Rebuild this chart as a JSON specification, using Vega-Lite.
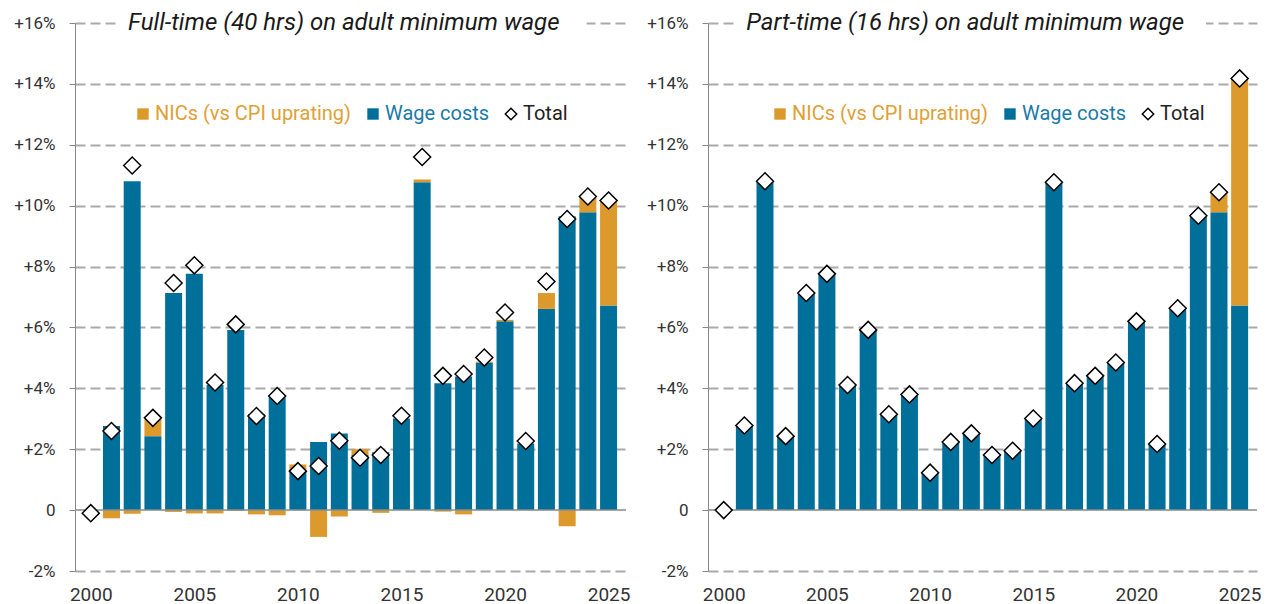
{
  "$schema": "https://vega.github.io/schema/vega-lite/v6.json",
  "background": "white",
  "padding": {"left": 13, "top": 11, "right": 0, "bottom": 0},
  "spacing": 16,
  "config": {
    "font": "Roboto",
    "view": {"stroke": null},
    "axisY": {
      "labelExpr": "datum.value > 0 ? '+' + datum.value + '%' : (datum.value == 0 ? '0' : datum.value + '%')",
      "grid": true,
      "gridDash": [10, 5],
      "gridColor": "#aaaaaa",
      "gridWidth": 2,
      "gridOpacity": {"condition": {"test": "datum.value === 0", "value": 0}, "value": 1},
      "domain": true,
      "domainColor": "#888888",
      "domainWidth": 1,
      "ticks": true,
      "tickColor": "#888888",
      "tickSize": 6,
      "labelPadding": 14,
      "labelFontSize": 17,
      "labelColor": "#333333",
      "labelFont": "Roboto",
      "title": null
    },
    "axisX": {
      "format": "d",
      "grid": false,
      "domain": false,
      "ticks": false,
      "labelPadding": 14,
      "labelFontSize": 19,
      "labelColor": "#333333",
      "labelFont": "Roboto",
      "labelFlush": false,
      "labelOverlap": false,
      "title": null
    },
    "legend": {
      "orient": "none",
      "direction": "horizontal",
      "title": null,
      "labelFontSize": 20,
      "labelFont": "Roboto",
      "labelLimit": 400,
      "labelOffset": 2,
      "columnPadding": 11,
      "symbolSize": 130,
      "padding": 0,
      "labelColor": {"expr": "datum.value === 'Total' ? '#222222' : (datum.value === 'Wage costs' ? '#1a7aa8' : '#e0a036')"},
      "symbolType": {"expr": "datum.value === 'Total' ? 'diamond' : 'square'"},
      "symbolStrokeColor": {"expr": "datum.value === 'Total' ? '#000000' : null"},
      "symbolStrokeWidth": 1.5
    }
  },
  "datasets": {
    "main": [
      {"panel": "full", "year": 2000, "series": "Wage costs", "value": 0},
      {"panel": "full", "year": 2001, "series": "Wage costs", "value": 2.76},
      {"panel": "full", "year": 2002, "series": "Wage costs", "value": 10.8},
      {"panel": "full", "year": 2003, "series": "Wage costs", "value": 2.43},
      {"panel": "full", "year": 2004, "series": "Wage costs", "value": 7.13},
      {"panel": "full", "year": 2005, "series": "Wage costs", "value": 7.76},
      {"panel": "full", "year": 2006, "series": "Wage costs", "value": 4.11},
      {"panel": "full", "year": 2007, "series": "Wage costs", "value": 5.92},
      {"panel": "full", "year": 2008, "series": "Wage costs", "value": 3.15},
      {"panel": "full", "year": 2009, "series": "Wage costs", "value": 3.7},
      {"panel": "full", "year": 2010, "series": "Wage costs", "value": 1.32},
      {"panel": "full", "year": 2011, "series": "Wage costs", "value": 2.24},
      {"panel": "full", "year": 2012, "series": "Wage costs", "value": 2.52},
      {"panel": "full", "year": 2013, "series": "Wage costs", "value": 1.81},
      {"panel": "full", "year": 2014, "series": "Wage costs", "value": 1.9},
      {"panel": "full", "year": 2015, "series": "Wage costs", "value": 3.01},
      {"panel": "full", "year": 2016, "series": "Wage costs", "value": 10.77},
      {"panel": "full", "year": 2017, "series": "Wage costs", "value": 4.17},
      {"panel": "full", "year": 2018, "series": "Wage costs", "value": 4.39},
      {"panel": "full", "year": 2019, "series": "Wage costs", "value": 4.85},
      {"panel": "full", "year": 2020, "series": "Wage costs", "value": 6.2},
      {"panel": "full", "year": 2021, "series": "Wage costs", "value": 2.19},
      {"panel": "full", "year": 2022, "series": "Wage costs", "value": 6.61},
      {"panel": "full", "year": 2023, "series": "Wage costs", "value": 9.65},
      {"panel": "full", "year": 2024, "series": "Wage costs", "value": 9.78},
      {"panel": "full", "year": 2025, "series": "Wage costs", "value": 6.72},
      {"panel": "full", "year": 2001, "series": "NICs (vs CPI uprating)", "value": -0.27},
      {"panel": "full", "year": 2002, "series": "NICs (vs CPI uprating)", "value": -0.12},
      {"panel": "full", "year": 2003, "series": "NICs (vs CPI uprating)", "value": 0.57},
      {"panel": "full", "year": 2004, "series": "NICs (vs CPI uprating)", "value": -0.06},
      {"panel": "full", "year": 2005, "series": "NICs (vs CPI uprating)", "value": -0.11},
      {"panel": "full", "year": 2006, "series": "NICs (vs CPI uprating)", "value": -0.11},
      {"panel": "full", "year": 2007, "series": "NICs (vs CPI uprating)", "value": -0.03},
      {"panel": "full", "year": 2008, "series": "NICs (vs CPI uprating)", "value": -0.14},
      {"panel": "full", "year": 2009, "series": "NICs (vs CPI uprating)", "value": -0.17},
      {"panel": "full", "year": 2010, "series": "NICs (vs CPI uprating)", "value": 0.18},
      {"panel": "full", "year": 2011, "series": "NICs (vs CPI uprating)", "value": -0.88},
      {"panel": "full", "year": 2012, "series": "NICs (vs CPI uprating)", "value": -0.21},
      {"panel": "full", "year": 2013, "series": "NICs (vs CPI uprating)", "value": 0.19},
      {"panel": "full", "year": 2014, "series": "NICs (vs CPI uprating)", "value": -0.09},
      {"panel": "full", "year": 2016, "series": "NICs (vs CPI uprating)", "value": 0.09},
      {"panel": "full", "year": 2017, "series": "NICs (vs CPI uprating)", "value": -0.05},
      {"panel": "full", "year": 2018, "series": "NICs (vs CPI uprating)", "value": -0.14},
      {"panel": "full", "year": 2019, "series": "NICs (vs CPI uprating)", "value": 0.03},
      {"panel": "full", "year": 2020, "series": "NICs (vs CPI uprating)", "value": 0.05},
      {"panel": "full", "year": 2022, "series": "NICs (vs CPI uprating)", "value": 0.52},
      {"panel": "full", "year": 2023, "series": "NICs (vs CPI uprating)", "value": -0.53},
      {"panel": "full", "year": 2024, "series": "NICs (vs CPI uprating)", "value": 0.47},
      {"panel": "full", "year": 2025, "series": "NICs (vs CPI uprating)", "value": 3.42},
      {"panel": "full", "year": 2000, "series": "Total", "value": -0.1},
      {"panel": "full", "year": 2001, "series": "Total", "value": 2.6},
      {"panel": "full", "year": 2002, "series": "Total", "value": 11.32},
      {"panel": "full", "year": 2003, "series": "Total", "value": 3.03},
      {"panel": "full", "year": 2004, "series": "Total", "value": 7.46},
      {"panel": "full", "year": 2005, "series": "Total", "value": 8.04},
      {"panel": "full", "year": 2006, "series": "Total", "value": 4.19},
      {"panel": "full", "year": 2007, "series": "Total", "value": 6.1},
      {"panel": "full", "year": 2008, "series": "Total", "value": 3.09},
      {"panel": "full", "year": 2009, "series": "Total", "value": 3.75},
      {"panel": "full", "year": 2010, "series": "Total", "value": 1.28},
      {"panel": "full", "year": 2011, "series": "Total", "value": 1.45},
      {"panel": "full", "year": 2012, "series": "Total", "value": 2.28},
      {"panel": "full", "year": 2013, "series": "Total", "value": 1.72},
      {"panel": "full", "year": 2014, "series": "Total", "value": 1.81},
      {"panel": "full", "year": 2015, "series": "Total", "value": 3.1},
      {"panel": "full", "year": 2016, "series": "Total", "value": 11.6},
      {"panel": "full", "year": 2017, "series": "Total", "value": 4.41},
      {"panel": "full", "year": 2018, "series": "Total", "value": 4.47},
      {"panel": "full", "year": 2019, "series": "Total", "value": 5.01},
      {"panel": "full", "year": 2020, "series": "Total", "value": 6.49},
      {"panel": "full", "year": 2021, "series": "Total", "value": 2.27},
      {"panel": "full", "year": 2022, "series": "Total", "value": 7.51},
      {"panel": "full", "year": 2023, "series": "Total", "value": 9.56},
      {"panel": "full", "year": 2024, "series": "Total", "value": 10.3},
      {"panel": "full", "year": 2025, "series": "Total", "value": 10.17},
      {"panel": "part", "year": 2000, "series": "Wage costs", "value": 0},
      {"panel": "part", "year": 2001, "series": "Wage costs", "value": 2.78},
      {"panel": "part", "year": 2002, "series": "Wage costs", "value": 10.8},
      {"panel": "part", "year": 2003, "series": "Wage costs", "value": 2.43},
      {"panel": "part", "year": 2004, "series": "Wage costs", "value": 7.13},
      {"panel": "part", "year": 2005, "series": "Wage costs", "value": 7.76},
      {"panel": "part", "year": 2006, "series": "Wage costs", "value": 4.11},
      {"panel": "part", "year": 2007, "series": "Wage costs", "value": 5.92},
      {"panel": "part", "year": 2008, "series": "Wage costs", "value": 3.15},
      {"panel": "part", "year": 2009, "series": "Wage costs", "value": 3.75},
      {"panel": "part", "year": 2010, "series": "Wage costs", "value": 1.23},
      {"panel": "part", "year": 2011, "series": "Wage costs", "value": 2.24},
      {"panel": "part", "year": 2012, "series": "Wage costs", "value": 2.52},
      {"panel": "part", "year": 2013, "series": "Wage costs", "value": 1.81},
      {"panel": "part", "year": 2014, "series": "Wage costs", "value": 1.95},
      {"panel": "part", "year": 2015, "series": "Wage costs", "value": 3.01},
      {"panel": "part", "year": 2016, "series": "Wage costs", "value": 10.77},
      {"panel": "part", "year": 2017, "series": "Wage costs", "value": 4.17},
      {"panel": "part", "year": 2018, "series": "Wage costs", "value": 4.41},
      {"panel": "part", "year": 2019, "series": "Wage costs", "value": 4.85},
      {"panel": "part", "year": 2020, "series": "Wage costs", "value": 6.2},
      {"panel": "part", "year": 2021, "series": "Wage costs", "value": 2.17},
      {"panel": "part", "year": 2022, "series": "Wage costs", "value": 6.63},
      {"panel": "part", "year": 2023, "series": "Wage costs", "value": 9.67},
      {"panel": "part", "year": 2024, "series": "Wage costs", "value": 9.78},
      {"panel": "part", "year": 2025, "series": "Wage costs", "value": 6.72},
      {"panel": "part", "year": 2024, "series": "NICs (vs CPI uprating)", "value": 0.66},
      {"panel": "part", "year": 2025, "series": "NICs (vs CPI uprating)", "value": 7.46},
      {"panel": "part", "year": 2000, "series": "Total", "value": 0},
      {"panel": "part", "year": 2001, "series": "Total", "value": 2.78},
      {"panel": "part", "year": 2002, "series": "Total", "value": 10.8},
      {"panel": "part", "year": 2003, "series": "Total", "value": 2.43},
      {"panel": "part", "year": 2004, "series": "Total", "value": 7.13},
      {"panel": "part", "year": 2005, "series": "Total", "value": 7.76},
      {"panel": "part", "year": 2006, "series": "Total", "value": 4.11},
      {"panel": "part", "year": 2007, "series": "Total", "value": 5.92},
      {"panel": "part", "year": 2008, "series": "Total", "value": 3.15},
      {"panel": "part", "year": 2009, "series": "Total", "value": 3.8},
      {"panel": "part", "year": 2010, "series": "Total", "value": 1.23},
      {"panel": "part", "year": 2011, "series": "Total", "value": 2.24},
      {"panel": "part", "year": 2012, "series": "Total", "value": 2.52},
      {"panel": "part", "year": 2013, "series": "Total", "value": 1.81},
      {"panel": "part", "year": 2014, "series": "Total", "value": 1.95},
      {"panel": "part", "year": 2015, "series": "Total", "value": 3.01},
      {"panel": "part", "year": 2016, "series": "Total", "value": 10.77},
      {"panel": "part", "year": 2017, "series": "Total", "value": 4.17},
      {"panel": "part", "year": 2018, "series": "Total", "value": 4.41},
      {"panel": "part", "year": 2019, "series": "Total", "value": 4.85},
      {"panel": "part", "year": 2020, "series": "Total", "value": 6.2},
      {"panel": "part", "year": 2021, "series": "Total", "value": 2.17},
      {"panel": "part", "year": 2022, "series": "Total", "value": 6.63},
      {"panel": "part", "year": 2023, "series": "Total", "value": 9.67},
      {"panel": "part", "year": 2024, "series": "Total", "value": 10.44},
      {"panel": "part", "year": 2025, "series": "Total", "value": 14.18}
    ]
  },
  "resolve": {"scale": {"color": "independent", "x": "independent", "y": "independent"}, "legend": {"color": "independent"}},
  "hconcat": [
    {
      "width": 551,
      "height": 548,
      "data": {"name": "main"},
      "transform": [{"filter": "datum.panel === 'full'"}],
      "encoding": {
        "x": {"field": "year", "type": "quantitative", "scale": {"domain": [1999.48, 2025.6], "nice": false, "zero": false}, "axis": {"values": [2000, 2005, 2010, 2015, 2020, 2025]}},
        "y": {"field": "value", "type": "quantitative", "scale": {"domain": [-2, 16], "nice": false, "zero": false}, "axis": {"values": [-2, 0, 2, 4, 6, 8, 10, 12, 14, 16]}}
      },
      "layer": [
        {
          "transform": [{"filter": "datum.series !== 'Total'"}],
          "mark": {"type": "bar", "size": 17},
          "encoding": {
            "y": {"field": "value", "type": "quantitative", "stack": "zero", "axis": {"values": [-2, 0, 2, 4, 6, 8, 10, 12, 14, 16]}},
            "color": {"field": "series", "type": "nominal", "scale": {"domain": ["NICs (vs CPI uprating)", "Wage costs", "Total"], "range": ["#dd9a2c", "#00709b", "#ffffff"]}, "legend": {"legendX": 58, "legendY": 81}},
            "order": {"field": "series", "sort": "descending"}
          }
        },
        {
          "transform": [{"filter": "datum.series === 'Total' && datum.year === 2000"}],
          "mark": {"type": "rule", "color": "#8a8a8a", "strokeWidth": 1.5},
          "encoding": {"x": {"value": 0}, "x2": {"value": 551}, "y": {"datum": 0}}
        },
        {
          "transform": [{"filter": "datum.series === 'Total' && datum.year === 2000"}],
          "mark": {"type": "rule", "color": "white", "strokeWidth": 6},
          "encoding": {"x": {"datum": 2001.23}, "x2": {"datum": 2023.94}, "y": {"datum": 16}}
        },
        {
          "transform": [{"filter": "datum.series === 'Total' && datum.year === 2000"}],
          "mark": {"type": "text", "align": "left", "baseline": "middle", "fontStyle": "italic", "fontWeight": "normal", "fontSize": 24, "color": "#1a1a1a", "font": "Roboto"},
          "encoding": {"x": {"datum": 2001.8}, "y": {"datum": 16}, "text": {"value": "Full-time (40 hrs) on adult minimum wage"}}
        },
        {
          "transform": [{"filter": "datum.series === 'Total'"}],
          "mark": {"type": "point", "shape": "diamond", "filled": true, "stroke": "#000000", "strokeWidth": 1.5, "size": 289, "opacity": 1},
          "encoding": {
            "color": {"field": "series", "type": "nominal"}
          }
        }
      ]
    },
    {
      "width": 549,
      "height": 548,
      "data": {"name": "main"},
      "transform": [{"filter": "datum.panel === 'part'"}],
      "encoding": {
        "x": {"field": "year", "type": "quantitative", "scale": {"domain": [1999.48, 2025.6], "nice": false, "zero": false}, "axis": {"values": [2000, 2005, 2010, 2015, 2020, 2025]}},
        "y": {"field": "value", "type": "quantitative", "scale": {"domain": [-2, 16], "nice": false, "zero": false}, "axis": {"values": [-2, 0, 2, 4, 6, 8, 10, 12, 14, 16]}}
      },
      "layer": [
        {
          "transform": [{"filter": "datum.series !== 'Total'"}],
          "mark": {"type": "bar", "size": 17},
          "encoding": {
            "y": {"field": "value", "type": "quantitative", "stack": "zero", "axis": {"values": [-2, 0, 2, 4, 6, 8, 10, 12, 14, 16]}},
            "color": {"field": "series", "type": "nominal", "scale": {"domain": ["NICs (vs CPI uprating)", "Wage costs", "Total"], "range": ["#dd9a2c", "#00709b", "#ffffff"]}, "legend": {"legendX": 62, "legendY": 81}},
            "order": {"field": "series", "sort": "descending"}
          }
        },
        {
          "transform": [{"filter": "datum.series === 'Total' && datum.year === 2000"}],
          "mark": {"type": "rule", "color": "#8a8a8a", "strokeWidth": 1.5},
          "encoding": {"x": {"value": 0}, "x2": {"value": 549}, "y": {"datum": 0}}
        },
        {
          "transform": [{"filter": "datum.series === 'Total' && datum.year === 2000"}],
          "mark": {"type": "rule", "color": "white", "strokeWidth": 6},
          "encoding": {"x": {"datum": 2000.52}, "x2": {"datum": 2023.37}, "y": {"datum": 16}}
        },
        {
          "transform": [{"filter": "datum.series === 'Total' && datum.year === 2000"}],
          "mark": {"type": "text", "align": "left", "baseline": "middle", "fontStyle": "italic", "fontWeight": "normal", "fontSize": 24, "color": "#1a1a1a", "font": "Roboto"},
          "encoding": {"x": {"datum": 2001.09}, "y": {"datum": 16}, "text": {"value": "Part-time (16 hrs) on adult minimum wage"}}
        },
        {
          "transform": [{"filter": "datum.series === 'Total'"}],
          "mark": {"type": "point", "shape": "diamond", "filled": true, "stroke": "#000000", "strokeWidth": 1.5, "size": 289, "opacity": 1},
          "encoding": {
            "color": {"field": "series", "type": "nominal"}
          }
        }
      ]
    }
  ]
}
